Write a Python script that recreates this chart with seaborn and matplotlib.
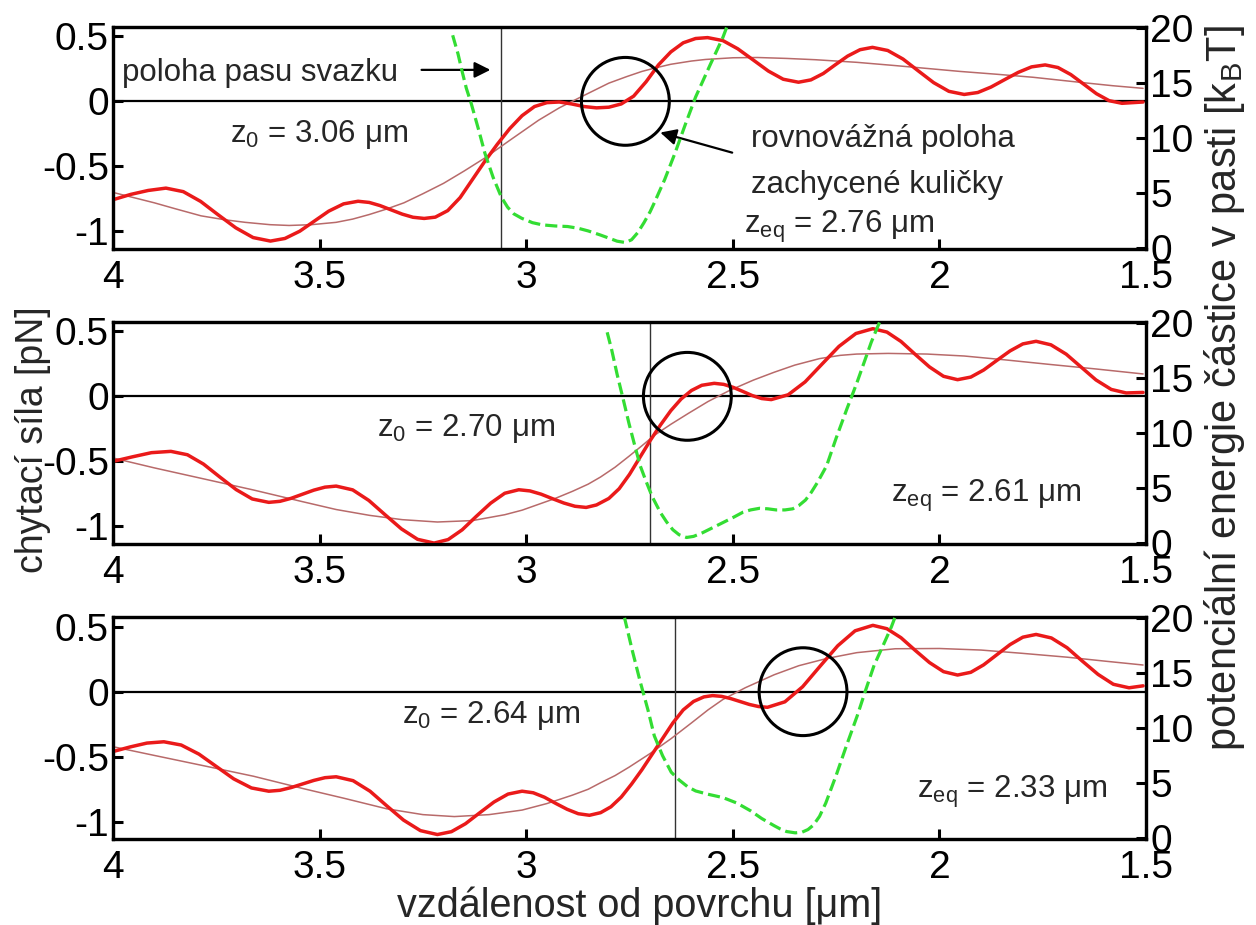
import numpy as np
import pandas as pd
import matplotlib
matplotlib.use("Agg")
import matplotlib.pyplot as plt
import seaborn as sns

# ---------------- data ----------------
x_ticks = [4, 3.5, 3, 2.5, 2, 1.5]
x_tick_labels = ["4", "3.5", "3", "2.5", "2", "1.5"]
f_ticks = [-1, -0.5, 0, 0.5]
f_tick_labels = ["-1", "-0.5", "0", "0.5"]
e_ticks = [0, 5, 10, 15, 20]
e_tick_labels = ["0", "5", "10", "15", "20"]

z0_values = [3.06, 2.70, 2.64]
zeq_values = [2.76, 2.61, 2.33]
z0_texts = ["3.06", "2.70", "2.64"]
zeq_texts = ["2.76", "2.61", "2.33"]

# panel 1 -- trapping force (thick), its smooth trend (thin), potential energy (dashed)
p1_force_x = [4.00, 3.957, 3.915, 3.872, 3.830, 3.788, 3.746, 3.703, 3.661, 3.619, 3.584, 3.548,
              3.513, 3.478, 3.442, 3.407, 3.380, 3.354, 3.327, 3.300, 3.274, 3.247, 3.22, 3.19,
              3.16, 3.13, 3.10, 3.07, 3.04, 3.01, 2.98, 2.95, 2.92, 2.89, 2.86, 2.83, 2.80, 2.77,
              2.74, 2.71, 2.68, 2.65, 2.62, 2.59, 2.561, 2.524, 2.488, 2.451, 2.414, 2.378, 2.341,
              2.311, 2.281, 2.252, 2.222, 2.192, 2.162, 2.125, 2.088, 2.051, 2.014, 1.977, 1.94,
              1.907, 1.875, 1.842, 1.809, 1.777, 1.744, 1.713, 1.682, 1.651, 1.620, 1.589, 1.558,
              1.507]
p1_force_y = [-0.756, -0.715, -0.685, -0.667, -0.694, -0.769, -0.871, -0.972, -1.047, -1.074, -1.054,
              -0.998, -0.921, -0.844, -0.788, -0.768, -0.777, -0.801, -0.834, -0.867, -0.891, -0.90,
              -0.89, -0.84, -0.74, -0.60, -0.46, -0.33, -0.21, -0.11, -0.04, -0.01, -0.005, -0.02,
              -0.04, -0.05, -0.045, -0.02, 0.04, 0.15, 0.28, 0.38, 0.45, 0.483, 0.49, 0.467, 0.404,
              0.319, 0.233, 0.170, 0.147, 0.165, 0.214, 0.281, 0.348, 0.397, 0.415, 0.391, 0.325,
              0.234, 0.144, 0.077, 0.053, 0.068, 0.110, 0.167, 0.223, 0.265, 0.28, 0.260, 0.206,
              0.133, 0.059, 0.005, -0.015, -0.005]
p1_trend_x = [4.00, 3.95, 3.90, 3.85, 3.787, 3.73, 3.68, 3.62, 3.574, 3.52, 3.46, 3.42, 3.38, 3.34,
              3.296, 3.25, 3.20, 3.15, 3.10, 3.04, 2.97, 2.92, 2.87, 2.80, 2.757, 2.72, 2.69, 2.65,
              2.60, 2.566, 2.50, 2.44, 2.37, 2.30, 2.20, 2.107, 2.03, 1.95, 1.86, 1.773, 1.70,
              1.65, 1.58, 1.507]
p1_trend_y = [-0.70, -0.74, -0.78, -0.825, -0.88, -0.91, -0.93, -0.948, -0.954, -0.948, -0.93,
              -0.905, -0.87, -0.83, -0.78, -0.71, -0.63, -0.535, -0.435, -0.30, -0.145, -0.05, 0.03,
              0.14, 0.19, 0.23, 0.255, 0.285, 0.31, 0.322, 0.335, 0.337, 0.33, 0.32, 0.30, 0.275,
              0.253, 0.23, 0.208, 0.185, 0.16, 0.143, 0.12, 0.10]
p1_energy_x = [3.178, 3.165, 3.155, 3.145, 3.133, 3.115, 3.10, 3.08, 3.06, 3.045, 3.03, 3.011,
               2.985, 2.961, 2.93, 2.90, 2.875, 2.85, 2.822, 2.80, 2.78, 2.76, 2.745, 2.73, 2.715,
               2.70, 2.69, 2.665, 2.64, 2.615, 2.59, 2.555, 2.524, 2.515]
p1_energy_y = [19.3, 17.6, 16.0, 14.5, 13.1, 10.7, 8.6, 6.4, 4.6, 3.7, 3.1, 2.7, 2.3, 2.1, 2.0,
               1.95, 1.8, 1.55, 1.2, 0.9, 0.62, 0.5, 0.75, 1.4, 2.3, 3.3, 4.1, 6.2, 8.6, 11.2,
               13.7, 16.6, 19.1, 20.0]

# panel 2
p2_force_x = [4.00, 3.953, 3.907, 3.86, 3.820, 3.781, 3.742, 3.702, 3.663, 3.623, 3.596, 3.569,
              3.542, 3.514, 3.487, 3.46, 3.420, 3.381, 3.342, 3.302, 3.263, 3.223, 3.189, 3.155,
              3.121, 3.086, 3.052, 3.018, 2.991, 2.964, 2.937, 2.909, 2.882, 2.855, 2.83, 2.80,
              2.775, 2.75, 2.725, 2.70, 2.675, 2.65, 2.625, 2.60, 2.575, 2.545, 2.522, 2.499,
              2.476, 2.453, 2.430, 2.407, 2.366, 2.325, 2.284, 2.243, 2.202, 2.161, 2.127, 2.093,
              2.059, 2.024, 1.990, 1.956, 1.924, 1.893, 1.861, 1.829, 1.798, 1.766, 1.730, 1.693,
              1.657, 1.621, 1.584, 1.548, 1.507]
p2_force_y = [-0.50, -0.465, -0.433, -0.423, -0.449, -0.521, -0.619, -0.717, -0.789, -0.815, -0.807,
              -0.784, -0.753, -0.721, -0.698, -0.69, -0.719, -0.800, -0.909, -1.019, -1.099, -1.128,
              -1.101, -1.026, -0.923, -0.821, -0.745, -0.718, -0.727, -0.752, -0.786, -0.820,
              -0.845, -0.854, -0.835, -0.785, -0.71, -0.60, -0.47, -0.34, -0.22, -0.11, -0.02,
              0.045, 0.085, 0.10, 0.092, 0.069, 0.038, 0.006, -0.017, -0.025, 0.012, 0.111, 0.248,
              0.384, 0.483, 0.52, 0.494, 0.422, 0.324, 0.226, 0.154, 0.128, 0.148, 0.202, 0.276,
              0.349, 0.403, 0.423, 0.396, 0.324, 0.225, 0.126, 0.053, 0.026, 0.03]
p2_trend_x = [4.00, 3.90, 3.787, 3.66, 3.541, 3.46, 3.379, 3.30, 3.215, 3.13, 3.052, 3.01, 2.97,
              2.93, 2.888, 2.85, 2.82, 2.785, 2.751, 2.72, 2.69, 2.65, 2.607, 2.56, 2.508, 2.45,
              2.40, 2.35, 2.29, 2.24, 2.20, 2.124, 2.03, 1.94, 1.84, 1.732, 1.62, 1.507]
p2_trend_y = [-0.474, -0.55, -0.63, -0.72, -0.81, -0.87, -0.915, -0.948, -0.966, -0.955, -0.91,
              -0.875, -0.83, -0.785, -0.73, -0.675, -0.62, -0.545, -0.46, -0.38, -0.30, -0.215,
              -0.13, -0.04, 0.045, 0.125, 0.185, 0.24, 0.29, 0.315, 0.325, 0.33, 0.325, 0.31,
              0.28, 0.245, 0.21, 0.172]
p2_energy_x = [2.806, 2.793, 2.78, 2.765, 2.751, 2.737, 2.724, 2.71, 2.695, 2.675, 2.66, 2.645,
               2.63, 2.612, 2.595, 2.575, 2.54, 2.50, 2.475, 2.457, 2.435, 2.415, 2.395, 2.374,
               2.355, 2.34, 2.324, 2.31, 2.295, 2.273, 2.25, 2.224, 2.20, 2.182, 2.165, 2.153,
               2.145]
p2_energy_y = [19.4, 17.5, 15.3, 13.0, 10.8, 8.8, 7.0, 5.6, 4.2, 2.75, 1.9, 1.2, 0.75, 0.5, 0.6,
               0.9, 1.55, 2.3, 2.8, 3.0, 3.15, 3.1, 3.0, 3.0, 3.1, 3.4, 3.9, 4.6, 5.5, 7.0, 9.5,
               12.15, 14.5, 16.4, 18.2, 19.3, 20.0]

# panel 3
p3_force_x = [4.00, 3.959, 3.918, 3.877, 3.835, 3.792, 3.750, 3.708, 3.665, 3.623, 3.596, 3.569,
              3.542, 3.514, 3.487, 3.46, 3.419, 3.378, 3.338, 3.297, 3.256, 3.215, 3.181, 3.147,
              3.113, 3.078, 3.044, 3.01, 2.983, 2.956, 2.929, 2.901, 2.874, 2.847, 2.82, 2.795,
              2.77, 2.745, 2.72, 2.695, 2.67, 2.645, 2.62, 2.595, 2.57, 2.549, 2.527, 2.505, 2.483,
              2.460, 2.438, 2.416, 2.374, 2.331, 2.289, 2.246, 2.204, 2.161, 2.127, 2.093, 2.059,
              2.024, 1.990, 1.956, 1.924, 1.893, 1.861, 1.829, 1.798, 1.766, 1.729, 1.691, 1.654,
              1.616, 1.579, 1.541, 1.507]
p3_force_y = [-0.46, -0.425, -0.395, -0.385, -0.410, -0.480, -0.575, -0.670, -0.740, -0.765, -0.758,
              -0.737, -0.710, -0.682, -0.661, -0.654, -0.684, -0.765, -0.876, -0.987, -1.068,
              -1.098, -1.076, -1.015, -0.932, -0.848, -0.787, -0.765, -0.777, -0.811, -0.858,
              -0.904, -0.938, -0.95, -0.93, -0.885, -0.81, -0.71, -0.60, -0.48, -0.36, -0.24,
              -0.14, -0.075, -0.04, -0.03, -0.036, -0.053, -0.075, -0.098, -0.114, -0.12, -0.078,
              0.038, 0.195, 0.353, 0.468, 0.51, 0.484, 0.415, 0.319, 0.224, 0.154, 0.128, 0.149,
              0.206, 0.284, 0.362, 0.419, 0.44, 0.413, 0.338, 0.235, 0.133, 0.057, 0.03, 0.045]
p3_trend_x = [4.00, 3.90, 3.787, 3.66, 3.541, 3.44, 3.338, 3.25, 3.174, 3.09, 3.01, 2.95, 2.888,
              2.85, 2.82, 2.785, 2.751, 2.70, 2.649, 2.60, 2.56, 2.524, 2.47, 2.40, 2.34, 2.273,
              2.20, 2.107, 2.00, 1.899, 1.80, 1.69, 1.60, 1.507]
p3_trend_y = [-0.423, -0.49, -0.565, -0.65, -0.744, -0.82, -0.90, -0.945, -0.96, -0.945, -0.91,
              -0.86, -0.795, -0.75, -0.70, -0.645, -0.58, -0.475, -0.36, -0.24, -0.14, -0.06, 0.03,
              0.13, 0.20, 0.255, 0.30, 0.33, 0.332, 0.32, 0.295, 0.265, 0.235, 0.205]
p3_energy_x = [2.762, 2.743, 2.724, 2.705, 2.69, 2.67, 2.649, 2.63, 2.61, 2.59, 2.56, 2.524, 2.49,
               2.457, 2.43, 2.40, 2.385, 2.37, 2.349, 2.333, 2.318, 2.305, 2.29, 2.275, 2.25,
               2.225, 2.199, 2.178, 2.158, 2.135, 2.116, 2.108]
p3_energy_y = [20.0, 17.0, 14.2, 11.6, 9.3, 7.5, 6.0, 5.3, 4.7, 4.3, 4.0, 3.7, 3.2, 2.5, 1.8,
               1.15, 0.85, 0.62, 0.5, 0.55, 0.8, 1.2, 2.0, 3.2, 5.7, 8.4, 11.1, 13.5, 15.7, 17.6,
               19.2, 20.0]

force_x = [p1_force_x, p2_force_x, p3_force_x]
force_y = [p1_force_y, p2_force_y, p3_force_y]
trend_x = [p1_trend_x, p2_trend_x, p3_trend_x]
trend_y = [p1_trend_y, p2_trend_y, p3_trend_y]
energy_x = [p1_energy_x, p2_energy_x, p3_energy_x]
energy_y = [p1_energy_y, p2_energy_y, p3_energy_y]

# text placement (data coords: x in µm, y in pN, baseline)
z0_text_pos = [(3.717, -0.31), (3.362, -0.308), (3.30, -0.244)]
zeq_text_pos = [(2.472, -1.01), (2.116, -0.81), (2.054, -0.82)]

# ---------------- style ----------------
sns.set_theme(style="white")
plt.rcParams.update({
    "font.family": ["Liberation Sans", "DejaVu Sans"],
    "mathtext.fontset": "custom",
    "mathtext.rm": "Liberation Sans",
    "mathtext.it": "Liberation Sans",
    "mathtext.bf": "Liberation Sans:bold",
    "axes.unicode_minus": False,
    "axes.edgecolor": "black",
    "axes.linewidth": 2.3,
    "lines.solid_joinstyle": "round",
    "lines.solid_capstyle": "round",
})

RED = "#ea1a1a"
TREND = "#b86a6a"
GREEN = "#33dd33"
TEXT_FS = 22.5
TICK_FS = 28

fig = plt.figure(figsize=(12.56, 9.25), dpi=100)
left, width, height = 0.0900, 0.8224, 0.2405
bottoms = [0.7308, 0.4119, 0.0926]

for i in range(3):
    ax = fig.add_axes([left, bottoms[i], width, height])
    ax2 = ax.twinx()

    ax.axhline(0, color="black", lw=1.6, zorder=2)
    ax.axvline(z0_values[i], color="#333333", lw=1.0, zorder=2)

    sns.lineplot(x=trend_x[i], y=trend_y[i], ax=ax, color=TREND, lw=1.1, estimator=None, zorder=3)
    sns.lineplot(x=force_x[i], y=force_y[i], ax=ax, color=RED, lw=2.5, estimator=None, zorder=4)
    sns.lineplot(x=energy_x[i], y=energy_y[i], ax=ax2, color=GREEN, lw=2.3, estimator=None,
                 linestyle=(0, (3.8, 1.6)), zorder=5)
    sns.scatterplot(x=[zeq_values[i]], y=[0], ax=ax, marker="o", s=4000, facecolors="none",
                    edgecolor="black", linewidth=2.2, zorder=6)

    ax.set_xlim(4, 1.5)
    ax.set_ylim(-1.135, 0.575)
    ax2.set_ylim(-0.09, 20.09)
    ax.set_xticks(x_ticks)
    ax.set_xticklabels(x_tick_labels)
    ax.set_yticks(f_ticks)
    ax.set_yticklabels(f_tick_labels)
    ax2.set_yticks(e_ticks)
    ax2.set_yticklabels(e_tick_labels)
    ax.set_xlabel("")
    ax.set_ylabel("")
    ax2.set_ylabel("")
    ax.tick_params(axis="both", direction="in", length=7, width=2.2, labelsize=TICK_FS, pad=3,
                   left=True, bottom=True, top=False, right=False, colors="black")
    ax.tick_params(axis="x", pad=8)
    ax2.tick_params(axis="y", direction="in", length=7, width=2.2, labelsize=TICK_FS, pad=3,
                    right=True, left=False, colors="black")
    for a in (ax, ax2):
        for s in a.spines.values():
            s.set_visible(True)
            s.set_color("black")
            s.set_linewidth(2.3)

    ax.text(z0_text_pos[i][0], z0_text_pos[i][1],
            "z$_\\mathrm{0}$ = " + z0_texts[i] + " μm", fontsize=TEXT_FS, ha="left", va="baseline")
    ax.text(zeq_text_pos[i][0], zeq_text_pos[i][1],
            "z$_\\mathrm{eq}$ = " + zeq_texts[i] + " μm", fontsize=TEXT_FS, ha="left", va="baseline")

    if i == 0:
        ax.text(3.978, 0.16, "poloha pasu svazku", fontsize=TEXT_FS, ha="left", va="baseline")
        ax.annotate("", xy=(3.08, 0.242), xytext=(3.26, 0.242),
                    arrowprops=dict(arrowstyle="-|>", color="black", lw=1.6, mutation_scale=24))
        ax.text(2.457, -0.35, "rovnovážná poloha", fontsize=TEXT_FS, ha="left", va="baseline")
        ax.text(2.457, -0.705, "zachycené kuličky", fontsize=TEXT_FS, ha="left", va="baseline")
        ax.annotate("", xy=(2.682, -0.234), xytext=(2.495, -0.40),
                    arrowprops=dict(arrowstyle="-|>", color="black", lw=1.6, mutation_scale=24))

fig.text(0.026, 0.5243, "chytací síla [pN]", rotation=90, fontsize=27, ha="center", va="center")
fig.text(0.975, 0.5805, "potenciální energie částice v pasti [k$_\\mathrm{B}$T]", rotation=90,
         fontsize=30, ha="center", va="center")
fig.text(0.509, 0.0205, "vzdálenost od povrchu [μm]", fontsize=28.5, ha="center", va="center")

fig.savefig("out.png", dpi=100)
